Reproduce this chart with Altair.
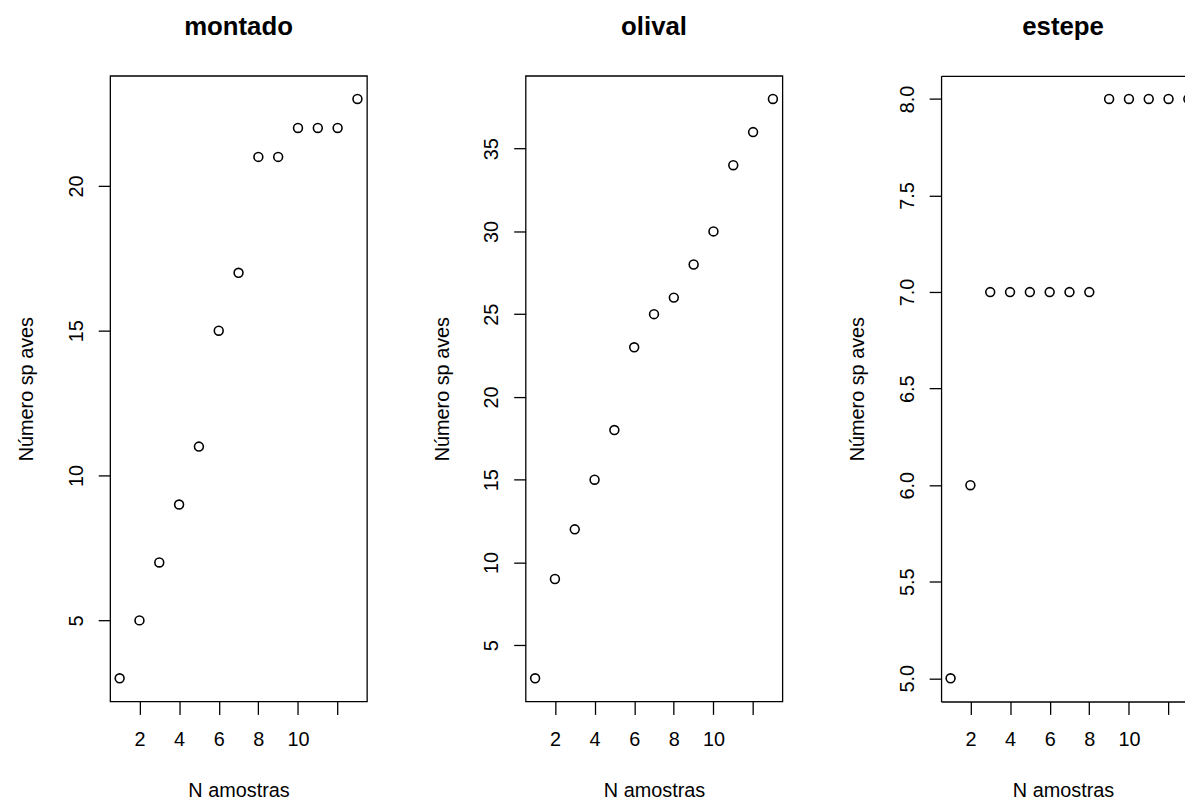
import altair as alt
import pandas as pd

# ---- data ----
amostras = [1, 2, 3, 4, 5, 6, 7, 8, 9, 10, 11, 12, 13]
montado = [3, 5, 7, 9, 11, 15, 17, 21, 21, 22, 22, 22, 23]
olival = [3, 9, 12, 15, 18, 23, 25, 26, 28, 30, 34, 36, 38]
estepe = [5, 6, 7, 7, 7, 7, 7, 7, 8, 8, 8, 8, 8]

x_ticks = [2, 4, 6, 8, 10, 12]
montado_ticks = [5, 10, 15, 20]
olival_ticks = [5, 10, 15, 20, 25, 30, 35]
estepe_ticks = [5.0, 5.5, 6.0, 6.5, 7.0, 7.5, 8.0]

FONT = "Liberation Sans"
W, H = 259, 631
X_MIN, X_MAX = 0.52, 13.48
PX_PER_UNIT = W / (X_MAX - X_MIN)
W3 = 246
X_MAX3 = X_MIN + W3 / PX_PER_UNIT


def pad_domain(vals):
    lo, hi = min(vals), max(vals)
    e = (hi - lo) * 0.04
    return [lo - e, hi + e]


def x_axis(domain_line):
    return alt.Axis(
        orient="bottom", values=x_ticks,
        labelExpr="datum.value == 12 ? '' : datum.label",
        title="N amostras", grid=False, domain=domain_line,
        domainColor="black", domainWidth=1.3,
        tickSize=13, tickColor="black", tickWidth=1.3,
        labelFont=FONT, labelFontSize=20, labelColor="black", labelPadding=15,
        labelAngle=0, labelAlign="center",
        titleFont=FONT, titleFontSize=20, titleFontWeight="normal",
        titleColor="black", titlePadding=32,
    )


def y_axis(ticks, fmt, domain_line):
    return alt.Axis(
        orient="left", values=ticks, format=fmt, title="Número sp aves",
        grid=False, domain=domain_line, domainColor="black", domainWidth=1.3,
        tickSize=12, tickColor="black", tickWidth=1.3,
        labelFont=FONT, labelFontSize=20, labelColor="black",
        labelAngle=270, labelAlign="center", labelBaseline="bottom",
        labelPadding=12,
        titleFont=FONT, titleFontSize=20, titleFontWeight="normal",
        titleColor="black", titlePadding=30,
    )


def panel(name, vals, ticks, fmt, last=False):
    df = pd.DataFrame({"x": amostras, "y": vals})
    xmax = X_MAX3 if last else X_MAX
    width = W3 if last else W
    xs = alt.Scale(domain=[X_MIN, xmax], nice=False, zero=False)
    ys = alt.Scale(domain=pad_domain(vals), nice=False, zero=False)
    pts = alt.Chart(df).mark_point(
        shape="circle", filled=False, size=80, strokeWidth=1.6,
        color="black", opacity=1, clip=True,
    ).encode(
        x=alt.X("x:Q", scale=xs, axis=x_axis(last)),
        y=alt.Y("y:Q", scale=ys, axis=y_axis(ticks, fmt, last)),
    )
    title = alt.TitleParams(
        text=name, font=FONT, fontSize=26, fontWeight="bold", color="black",
        anchor="middle", baseline="alphabetic", offset=15,
    )
    if not last:
        return pts.properties(
            width=width, height=H, title=title,
            view=alt.ViewBackground(stroke="black", strokeWidth=1.3),
        )
    top = alt.Chart(df).mark_point(opacity=0, clip=True).encode(
        x=alt.X("x:Q", scale=xs, axis=alt.Axis(
            orient="top", labels=False, ticks=False, domain=True,
            domainColor="black", domainWidth=1.3, title=None, grid=False)),
    )
    return alt.layer(pts, top).properties(
        width=width, height=H, title=title,
        view=alt.ViewBackground(stroke=None),
    )


chart = alt.hconcat(
    panel("montado", montado, montado_ticks, "d"),
    panel("olival", olival, olival_ticks, "d"),
    panel("estepe", estepe, estepe_ticks, ".1f", last=True),
    spacing=160, bounds="flush",
).properties(
    padding={"left": 8, "top": 2, "right": 0, "bottom": 0},
    background="white",
)

chart.save("out.html", embed_options={"renderer": "svg", "actions": False})
